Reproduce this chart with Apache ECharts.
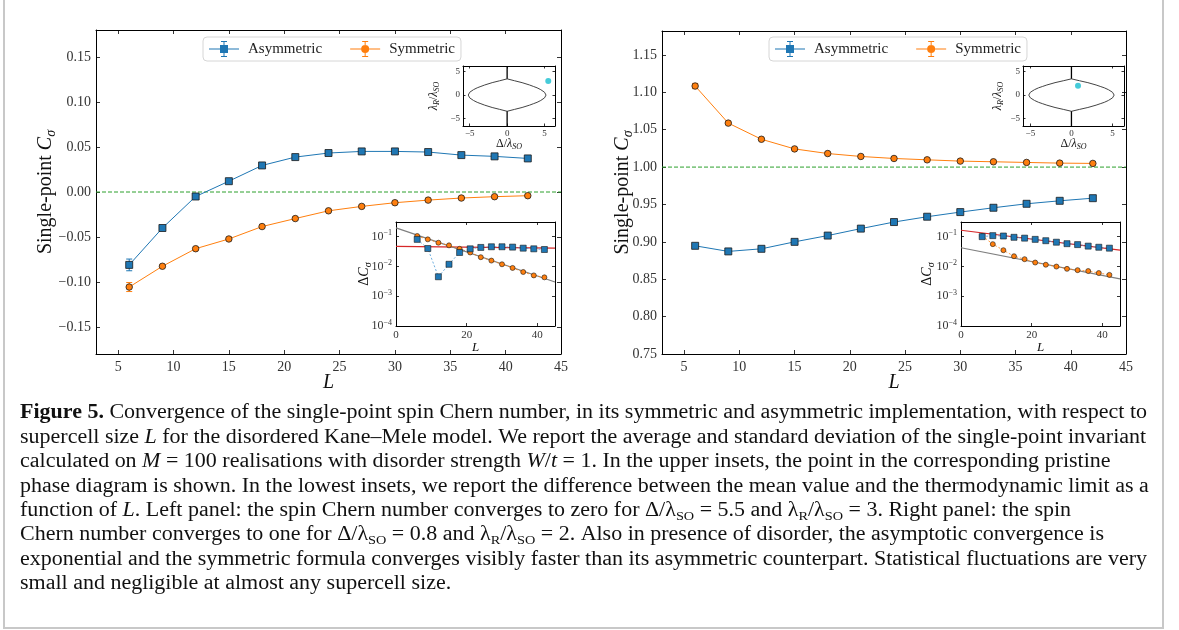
<!DOCTYPE html>
<html lang="en">
<head>
    <meta charset="UTF-8">
    <title>Figure 5</title>
    <script src="https://cdn.jsdelivr.net/npm/echarts@6/dist/echarts.min.js"></script>
    <style>
        html, body { margin: 0; padding: 0; background: #fff; }
        #fig { width: 1179px; height: 630px; }
    </style>
</head>
<body>
<div id="fig"></div>
<script>
    // supercell sizes L
    const sizes = [6, 9, 12, 15, 18, 21, 24, 27, 30, 33, 36, 39, 42];

    // left panel: Δ/λSO = 5.5, λR/λSO = 3 (limit 0)
    const leftAsym = [-0.081, -0.040, -0.005, 0.012, 0.0295, 0.0388, 0.0433, 0.0451, 0.0451, 0.0444, 0.0410, 0.0396, 0.0373];
    const leftAsymErr = [0.0065, 0.0012, 0.001, 0.001, 0.0008, 0.0008, 0.0008, 0.0008, 0.0008, 0.0008, 0.0008, 0.0008, 0.0008];
    const leftSym = [-0.1056, -0.0825, -0.0630, -0.0522, -0.0384, -0.0295, -0.0209, -0.0160, -0.0119, -0.0090, -0.0067, -0.0052, -0.0041];
    const leftSymErr = [0.005, 0.0012, 0.001, 0.001, 0.0008, 0.0008, 0.0008, 0.0008, 0.0008, 0.0008, 0.0008, 0.0008, 0.0008];
    const leftLimit = 0;
    const leftAsymDelta = [0.081, 0.040, 0.0045, 0.0118, 0.0294, 0.039, 0.0434, 0.0457, 0.0457, 0.0445, 0.041, 0.039, 0.037];
    const leftSymDelta = [0.105, 0.081, 0.0625, 0.051, 0.039, 0.0294, 0.0204, 0.0157, 0.0118, 0.0089, 0.0065, 0.005, 0.0043];
    const leftAsymFit = [[0, 0.047], [45, 0.041]];
    const leftSymFit = [[0, 0.197], [45, 0.003]];
    const leftPoint = [[5.5, 3]];

    // right panel: Δ/λSO = 0.8, λR/λSO = 2 (limit 1)
    const rightAsym = [0.8947, 0.8872, 0.8907, 0.9000, 0.9084, 0.9177, 0.9265, 0.9336, 0.9398, 0.9456, 0.9509, 0.9549, 0.9584];
    const rightAsymErr = [0.0012, 0.001, 0.001, 0.0008, 0.0008, 0.0008, 0.0008, 0.0008, 0.0008, 0.0008, 0.0008, 0.0008, 0.0008];
    const rightSym = [1.1084, 1.0588, 1.0372, 1.0243, 1.0181, 1.0142, 1.0115, 1.0097, 1.0080, 1.0071, 1.0062, 1.0053, 1.0049];
    const rightSymErr = [0.0035, 0.0012, 0.001, 0.0008, 0.0008, 0.0008, 0.0008, 0.0008, 0.0008, 0.0008, 0.0008, 0.0008, 0.0008];
    const rightLimit = 1;
    const rightAsymDelta = [0.100, 0.108, 0.105, 0.095, 0.089, 0.081, 0.073, 0.065, 0.058, 0.054, 0.048, 0.044, 0.041];
    const rightSymDelta = [0.106, 0.056, 0.035, 0.022, 0.0175, 0.0135, 0.0114, 0.0099, 0.0083, 0.0075, 0.007, 0.006, 0.0052];
    const rightAsymFit = [[0, 0.164], [45, 0.0354]];
    const rightSymFit = [[0, 0.0424], [45, 0.0038]];
    const rightPoint = [[0.8, 2]];

    // pristine phase diagram (upper insets)
    const lensBoundary = [
        [-5.2, 0], [-5.0, 0.6], [-4.5, 1.15], [-4.0, 1.55], [-3.5, 1.85], [-3.0, 2.15], [-2.0, 2.65], [-1.0, 3.05], [0, 3.46],
        [1.0, 3.05], [2.0, 2.65], [3.0, 2.15], [3.5, 1.85], [4.0, 1.55], [4.5, 1.15], [5.0, 0.6], [5.2, 0],
        [5.0, -0.6], [4.5, -1.15], [4.0, -1.55], [3.5, -1.85], [3.0, -2.15], [2.0, -2.65], [1.0, -3.05], [0, -3.46],
        [-1.0, -3.05], [-2.0, -2.65], [-3.0, -2.15], [-3.5, -1.85], [-4.0, -1.55], [-4.5, -1.15], [-5.0, -0.6], [-5.2, 0]
    ];
    const gapLineUpper = [[0, 3.46], [0, 6.2]];
    const gapLineLower = [[0, -3.46], [0, -6.6]];

    const captionLines = [
        '{b|Figure 5.} Convergence of the single-point spin Chern number, in its symmetric and asymmetric implementation, with respect to',
        'supercell size {i|L} for the disordered Kane–Mele model. We report the average and standard deviation of the single-point invariant',
        'calculated on {i|M} = 100 realisations with disorder strength {i|W}/{i|t} = 1. In the upper insets, the point in the corresponding pristine',
        'phase diagram is shown. In the lowest insets, we report the difference between the mean value and the thermodynamic limit as a',
        'function of {i|L}. Left panel: the spin Chern number converges to zero for Δ/λ{s|SO} = 5.5 and λ{s|R}/λ{s|SO} = 3. Right panel: the spin',
        'Chern number converges to one for Δ/λ{s|SO} = 0.8 and λ{s|R}/λ{s|SO} = 2. Also in presence of disorder, the asymptotic convergence is',
        'exponential and the symmetric formula converges visibly faster than its asymmetric counterpart. Statistical fluctuations are very',
        'small and negligible at almost any supercell size.'
    ];

    const serif = '"Liberation Serif", "DejaVu Serif", serif';
    const blue = '#1f77b4', orange = '#ff7f0e', green = '#2ca02c', red = '#d62728', grey = '#7f7f7f', cyan = '#17becf';

    function pairs(xs, ys) { return xs.map((x, i) => [x, ys[i]]); }
    function spans(xs, ys, es) { return xs.map((x, i) => [x, ys[i] - es[i], ys[i] + es[i]]); }
    function minus(s) { return String(s).replace('-', '\u2212'); }
    function every(step, fmt) {
        return v => Math.abs(v / step - Math.round(v / step)) < 1e-6 ? fmt(v) : '';
    }
    function fixed2(v) { return Math.abs(v) < 1e-9 ? '0.00' : minus(v.toFixed(2)); }
    function logLabel(v) {
        const l = Math.log10(v), e = Math.round(l);
        return Math.abs(l - e) < 0.02 ? '10{s|' + minus(e) + '}' : '';
    }

    function nameStyle(fs) {
        const sub = Math.round(fs * 0.68);
        return {
            fontFamily: serif, fontSize: fs, color: '#111', lineHeight: Math.round(fs * 1.2),
            rich: {
                i: {fontFamily: serif, fontSize: fs, fontStyle: 'italic', color: '#111', lineHeight: Math.round(fs * 1.2)},
                s: {fontFamily: serif, fontSize: sub, fontStyle: 'italic', color: '#111', lineHeight: sub, verticalAlign: 'bottom'}
            }
        };
    }

    const grids = [], xAxes = [], yAxes = [];

    function axis(g, pos, s, labelled) {
        const vertical = pos === 'left' || pos === 'right';
        const a = {
            gridIndex: g, position: pos, type: s.log ? 'log' : 'value',
            min: s.min, max: s.max,
            axisLine: {show: true, onZero: false, lineStyle: {color: '#000', width: 1}},
            axisTick: {show: true, inside: true, length: s.tick, lineStyle: {color: '#000', width: 0.8}},
            axisLabel: {show: false},
            splitLine: {show: false},
            silent: true
        };
        if (s.split) a.splitNumber = s.split;
        if (s.interval) a.interval = s.interval;
        if (s.log) a.logBase = 10;
        if (labelled) {
            a.axisLabel = {
                show: true, formatter: s.fmt, margin: s.margin, fontFamily: serif, fontSize: s.fs,
                color: '#333', showMinLabel: true, showMaxLabel: true
            };
            if (s.rich) { a.axisLabel.rich = s.rich; a.axisLabel.lineHeight = s.lineHeight; }
            if (s.name) {
                a.name = s.name;
                a.nameLocation = 'middle';
                a.nameGap = s.nameGap;
                a.nameMoveOverlap = false;
                a.nameRotate = vertical ? 90 : 0;
                a.nameTextStyle = nameStyle(s.nameSize);
            }
        }
        return a;
    }

    function addFrame(rect, xs, ys, inset) {
        const g = grids.length;
        grids.push(Object.assign({show: inset, borderWidth: 0, backgroundColor: inset ? '#fff' : 'transparent'}, rect));
        xAxes.push(axis(g, 'bottom', xs, true), axis(g, 'top', xs, false));
        yAxes.push(axis(g, 'left', ys, true), axis(g, 'right', ys, false));
        return 2 * g;
    }

    const mainX = {min: 3, max: 45, split: 8, tick: 4, fs: 14, margin: 6, fmt: every(5, String), name: '{i|L}', nameGap: 17, nameSize: 20};
    const insetX = {min: 0, max: 45, interval: 20, tick: 3, fs: 11, margin: 4, fmt: every(20, String), name: '{i|L}', nameGap: 14, nameSize: 13};
    const phaseX = {min: -5.9, max: 6.4, split: 3, tick: 2.5, fs: 9, margin: 3, fmt: every(5, v => minus(Math.round(v))), name: 'Δ/{i|λ}{s|SO}', nameGap: 11, nameSize: 12};

    function insetY(gap) {
        return {
            log: true, min: 1e-4, max: 0.31, tick: 3, fs: 12, margin: 4, fmt: logLabel, lineHeight: 15,
            rich: {s: {fontFamily: serif, fontSize: 8, color: '#333', lineHeight: 8, verticalAlign: 'top'}},
            name: 'Δ{i|C}{s|σ}', nameGap: gap, nameSize: 14
        };
    }
    function phaseY(gap) {
        return {min: -6.6, max: 6.2, split: 3, tick: 2.5, fs: 9, margin: 3, fmt: every(5, v => minus(Math.round(v))), name: '{i|λ}{s|R}/{i|λ}{s|SO}', nameGap: gap, nameSize: 12};
    }

    const series = [];

    function mainPanel(ax, asym, asymErr, sym, symErr, limit) {
        series.push({
            type: 'line', data: [[3, limit], [45, limit]], xAxisIndex: ax, yAxisIndex: ax,
            symbol: 'none', lineStyle: {color: green, width: 1, type: [4, 2]}, silent: true, z: 2
        });
        [[asym, asymErr, blue, 'rect', 7, 'Asymmetric'], [sym, symErr, orange, 'circle', 6.5, 'Symmetric']].forEach(s => {
            series.push({
                type: 'line', name: s[5], data: pairs(sizes, s[0]), xAxisIndex: ax, yAxisIndex: ax,
                symbol: s[3], symbolSize: s[4], showAllSymbol: true,
                itemStyle: {color: s[2], borderColor: '#1a1a1a', borderWidth: 0.8},
                lineStyle: {color: s[2], width: 1}, z: 4
            });
            series.push({
                type: 'custom', name: s[5], data: spans(sizes, s[0], s[1]), xAxisIndex: ax, yAxisIndex: ax,
                encode: {x: 0, y: [1, 2]}, z: 3,
                renderItem: (params, api) => {
                    const lo = api.coord([api.value(0), api.value(1)]);
                    const hi = api.coord([api.value(0), api.value(2)]);
                    const st = {stroke: s[2], lineWidth: 1};
                    return {type: 'group', children: [
                        {type: 'line', shape: {x1: lo[0], y1: lo[1], x2: hi[0], y2: hi[1]}, style: st},
                        {type: 'line', shape: {x1: lo[0] - 3, y1: lo[1], x2: lo[0] + 3, y2: lo[1]}, style: st},
                        {type: 'line', shape: {x1: hi[0] - 3, y1: hi[1], x2: hi[0] + 3, y2: hi[1]}, style: st}
                    ]};
                }
            });
        });
    }

    function deltaPanel(ax, asymD, symD, asymFit, symFit) {
        series.push({type: 'line', data: asymFit, xAxisIndex: ax, yAxisIndex: ax, symbol: 'none', lineStyle: {color: red, width: 1.2}, silent: true, z: 2});
        series.push({type: 'line', data: symFit, xAxisIndex: ax, yAxisIndex: ax, symbol: 'none', lineStyle: {color: grey, width: 1.2}, silent: true, z: 2});
        series.push({
            type: 'line', data: pairs(sizes, symD), xAxisIndex: ax, yAxisIndex: ax, symbol: 'circle', symbolSize: 5,
            itemStyle: {color: orange, borderColor: '#1a1a1a', borderWidth: 0.6},
            lineStyle: {color: orange, width: 1, type: [2, 2], opacity: 0.8}, z: 3
        });
        series.push({
            type: 'line', data: pairs(sizes, asymD), xAxisIndex: ax, yAxisIndex: ax, symbol: 'rect', symbolSize: 6,
            itemStyle: {color: blue, borderColor: '#1a1a1a', borderWidth: 0.6},
            lineStyle: {color: '#4a9ad4', width: 1, type: [2, 2], opacity: 0.8}, z: 4
        });
    }

    function phasePanel(ax, point) {
        series.push({type: 'line', data: lensBoundary, xAxisIndex: ax, yAxisIndex: ax, symbol: 'none', lineStyle: {color: '#444', width: 1}, silent: true});
        series.push({type: 'line', data: gapLineUpper, xAxisIndex: ax, yAxisIndex: ax, symbol: 'none', lineStyle: {color: '#000', width: 1.3}, silent: true});
        series.push({type: 'line', data: gapLineLower, xAxisIndex: ax, yAxisIndex: ax, symbol: 'none', lineStyle: {color: '#000', width: 1.3}, silent: true});
        series.push({type: 'scatter', data: point, xAxisIndex: ax, yAxisIndex: ax, symbol: 'circle', symbolSize: 6, itemStyle: {color: cyan}, z: 4});
    }

    // left panel
    let ax = addFrame({left: 96, top: 30, width: 465, height: 324}, mainX,
        {min: -0.18, max: 0.18, split: 7, tick: 4, fs: 14, margin: 5, fmt: every(0.05, fixed2), name: 'Single-point {i|C}{s|σ}', nameGap: 38, nameSize: 20}, false);
    mainPanel(ax, leftAsym, leftAsymErr, leftSym, leftSymErr, leftLimit);
    ax = addFrame({left: 396, top: 222, width: 159, height: 104}, insetX, insetY(23), true);
    deltaPanel(ax, leftAsymDelta, leftSymDelta, leftAsymFit, leftSymFit);
    ax = addFrame({left: 463, top: 66, width: 92, height: 60}, phaseX, phaseY(22), true);
    phasePanel(ax, leftPoint);

    // right panel
    ax = addFrame({left: 662, top: 31, width: 464, height: 323}, mainX,
        {min: 0.75, max: 1.182, interval: 0.05, tick: 4, fs: 14, margin: 5, fmt: every(0.05, fixed2), name: 'Single-point {i|C}{s|σ}', nameGap: 27, nameSize: 20}, false);
    mainPanel(ax, rightAsym, rightAsymErr, rightSym, rightSymErr, rightLimit);
    ax = addFrame({left: 961, top: 222, width: 159, height: 104}, insetX, insetY(25), true);
    deltaPanel(ax, rightAsymDelta, rightSymDelta, rightAsymFit, rightSymFit);
    ax = addFrame({left: 1023, top: 66, width: 101, height: 60}, phaseX, phaseY(18), true);
    phasePanel(ax, rightPoint);

    const squareIcon = 'path://M0,7.5H30V8.5H0Z M14.5,0H15.5V16H14.5Z M12,0H18V1H12Z M12,15H18V16H12Z M11,4H19V12H11Z';
    const circleIcon = 'path://M0,7.5H30V8.5H0Z M14.5,0H15.5V16H14.5Z M12,0H18V1H12Z M12,15H18V16H12Z M11,8A4,4,0,1,1,19,8A4,4,0,1,1,11,8Z';

    function legendAt(left) {
        return {
            left: left, top: 37, orient: 'horizontal', itemWidth: 30, itemHeight: 16, itemGap: 28,
            padding: [4, 6, 4, 6], backgroundColor: '#fff', borderColor: '#d6d6d6', borderWidth: 1, borderRadius: 4,
            itemStyle: {borderWidth: 0},
            textStyle: {fontFamily: serif, fontSize: 15, color: '#222', padding: [0, 0, 0, 4]},
            selectedMode: false,
            data: [{name: 'Asymmetric', icon: squareIcon}, {name: 'Symmetric', icon: circleIcon}]
        };
    }

    // caption, stretched so the first line spans the same width as in the figure
    const measure = document.createElement('canvas').getContext('2d');
    measure.font = 'bold 20px "Liberation Serif"';
    let firstWidth = measure.measureText('Figure 5.').width;
    measure.font = '20px "Liberation Serif"';
    firstWidth += measure.measureText(captionLines[0].replace(/\{\w+\|([^}]*)\}/g, '')).width;
    const capScale = 1127 / firstWidth;
    const captionY = [413, 437.5, 462, 486.5, 511, 535, 559.5, 584];
    const capRich = {
        b: {fontFamily: serif, fontSize: 20, fontWeight: 'bold', fill: '#111', lineHeight: 24},
        i: {fontFamily: serif, fontSize: 20, fontStyle: 'italic', fill: '#111', lineHeight: 24},
        s: {fontFamily: serif, fontSize: 13, fill: '#111', lineHeight: 13, verticalAlign: 'bottom'}
    };
    const graphics = [{
        type: 'polyline', silent: true,
        shape: {points: [[4, 0], [4, 628], [1163, 628], [1163, 0]]},
        style: {stroke: '#c8c8c8', lineWidth: 2, fill: null}
    }];
    captionLines.forEach((t, i) => {
        graphics.push({
            type: 'text', x: 20, y: captionY[i], scaleX: capScale, silent: true,
            style: {text: t, fontFamily: serif, fontSize: 20, fill: '#111', lineHeight: 24, verticalAlign: 'middle', align: 'left', rich: capRich}
        });
    });

    const chart = echarts.init(document.getElementById('fig'));
    chart.setOption({
        animation: false,
        backgroundColor: '#fff',
        grid: grids,
        xAxis: xAxes,
        yAxis: yAxes,
        legend: [legendAt(203), legendAt(769)],
        series: series,
        graphic: {elements: graphics}
    });
</script>
</body>
</html>
